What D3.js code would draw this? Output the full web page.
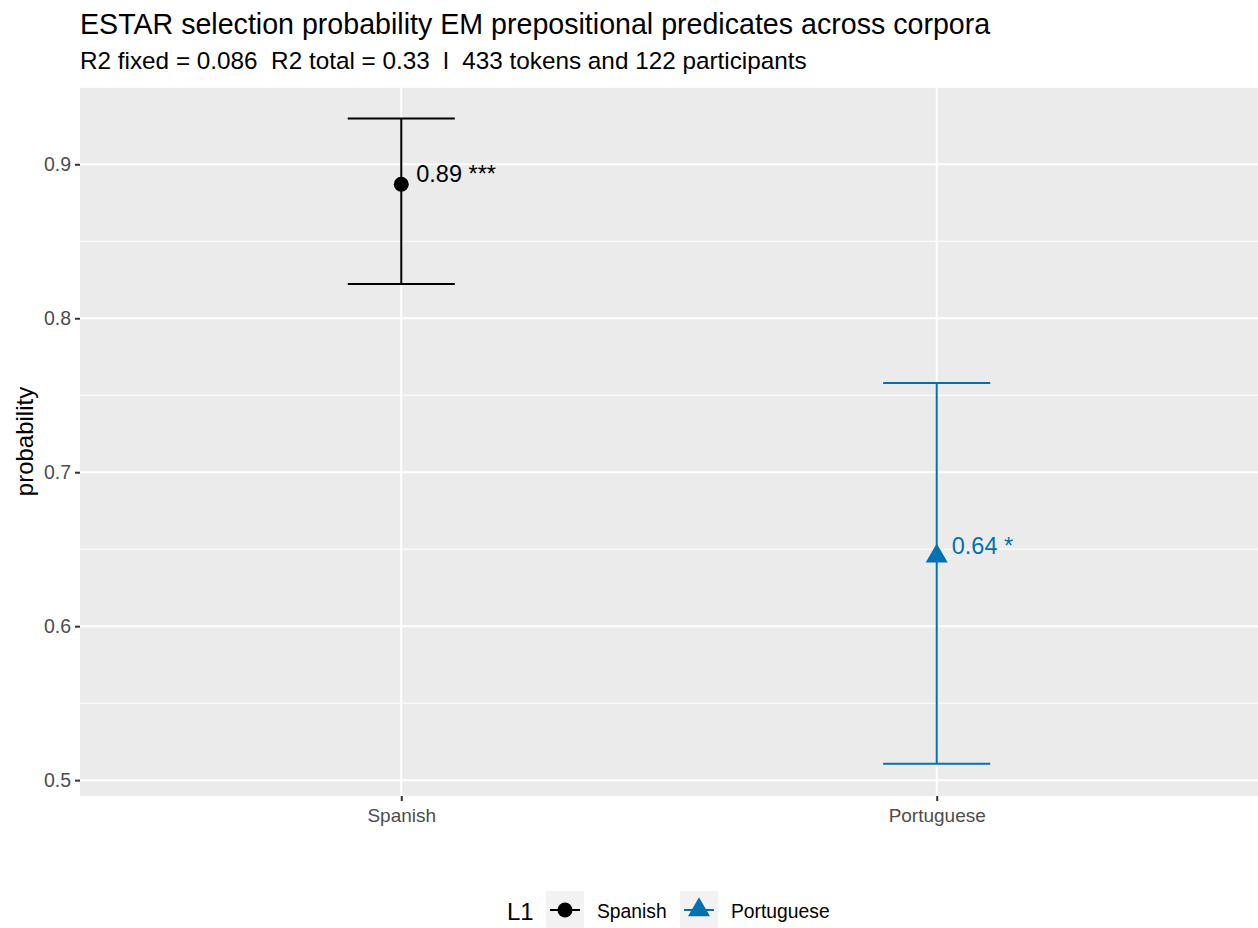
<!DOCTYPE html>
<html>
<head>
<meta charset="utf-8">
<script src="https://cdn.jsdelivr.net/npm/d3@7"></script>
<style>
  body { margin: 0; background: #fff; }
  svg { display: block; font-family: "Liberation Sans", Arial, Helvetica, sans-serif; }
  text { white-space: pre; }
</style>
</head>
<body>
<svg id="chart" width="1258" height="928"></svg>
<script>
// ---- data ----
const categories = ["Spanish", "Portuguese"];
const estimates = [0.887, 0.6455];
const lowerCI = [0.8223, 0.5106];
const upperCI = [0.9297, 0.758];
const labels = ["0.89 ***", "0.64 *"];
const colors = ["#000000", "#0072B2"];
const shapes = ["circle", "triangle"];
const yTicks = [0.5, 0.6, 0.7, 0.8, 0.9];
const yMinor = [0.55, 0.65, 0.75, 0.85, 0.95];
const titleText = "ESTAR selection probability EM prepositional predicates across corpora";
const subtitleText = "R2 fixed = 0.086  R2 total = 0.33  l  433 tokens and 122 participants";
const yLabel = "probability";
const legendTitle = "L1";

// ---- layout ----
const svg = d3.select("#chart");
const panel = { left: 80, right: 1258, top: 87, bottom: 796 };

const y = d3.scaleLinear().domain([0.4897, 0.9502]).range([panel.bottom, panel.top]);
// discrete x with ggplot-like expansion (0.6 units each side)
const xLin = d3.scaleLinear().domain([0.4, 2.6]).range([panel.left, panel.right]);
const x = d3.scalePoint().domain(categories).range([xLin(1), xLin(2)]);
const unit = xLin(1) - xLin(0);

// panel background
svg.append("rect").attr("x", panel.left).attr("y", panel.top)
  .attr("width", panel.right - panel.left).attr("height", panel.bottom - panel.top)
  .attr("fill", "#EBEBEB");

// minor grid
svg.append("g").selectAll("line").data(yMinor).join("line")
  .attr("x1", panel.left).attr("x2", panel.right)
  .attr("y1", d => y(d)).attr("y2", d => y(d))
  .attr("stroke", "#fff").attr("stroke-width", 1);
// major grid
svg.append("g").selectAll("line").data(yTicks).join("line")
  .attr("x1", panel.left).attr("x2", panel.right)
  .attr("y1", d => y(d)).attr("y2", d => y(d))
  .attr("stroke", "#fff").attr("stroke-width", 2);
svg.append("g").selectAll("line").data(categories).join("line")
  .attr("x1", d => x(d)).attr("x2", d => x(d))
  .attr("y1", panel.top).attr("y2", panel.bottom)
  .attr("stroke", "#fff").attr("stroke-width", 2);

// axes
const yAxis = d3.axisLeft(y).tickValues(yTicks).tickFormat(d3.format(".1f")).tickSize(5).tickPadding(4);
const gy = svg.append("g").attr("transform", `translate(${panel.left},0)`).call(yAxis);
gy.select(".domain").remove();
gy.selectAll(".tick line").attr("stroke", "#333").attr("stroke-width", 2);
gy.selectAll(".tick text").attr("fill", "#4D4D4D").style("font-size", "19.5px");

const xAxis = d3.axisBottom(x).tickSize(5).tickPadding(8);
const gx = svg.append("g").attr("transform", `translate(0,${panel.bottom})`).call(xAxis);
gx.select(".domain").remove();
gx.selectAll(".tick line").attr("stroke", "#333").attr("stroke-width", 2);
gx.selectAll(".tick text").attr("fill", "#4D4D4D").style("font-size", "19px");

// error bars
const capHalf = 0.1 * unit;
const data = categories.map((c, i) => ({ c, est: estimates[i], lo: lowerCI[i], hi: upperCI[i], lab: labels[i], col: colors[i], shape: shapes[i] }));
const eg = svg.append("g");
data.forEach(d => {
  const cx = x(d.c);
  eg.append("line").attr("x1", cx).attr("x2", cx).attr("y1", y(d.hi)).attr("y2", y(d.lo))
    .attr("stroke", d.col).attr("stroke-width", 2);
  eg.append("line").attr("x1", cx - capHalf).attr("x2", cx + capHalf).attr("y1", y(d.hi)).attr("y2", y(d.hi))
    .attr("stroke", d.col).attr("stroke-width", 2);
  eg.append("line").attr("x1", cx - capHalf).attr("x2", cx + capHalf).attr("y1", y(d.lo)).attr("y2", y(d.lo))
    .attr("stroke", d.col).attr("stroke-width", 2);
});

const symCircle = d3.symbol().type(d3.symbolCircle).size(Math.PI * 7.5 * 7.5);
const symTri = d3.symbol().type(d3.symbolTriangle).size(210);
function sym(shape) { return shape === "circle" ? symCircle() : symTri(); }

data.forEach(d => {
  eg.append("path").attr("d", sym(d.shape))
    .attr("transform", `translate(${x(d.c)},${y(d.est)})`)
    .attr("fill", d.col);
  eg.append("text").attr("x", x(d.c) + 15).attr("y", y(d.est) - 10.5)
    .attr("dominant-baseline", "central")
    .attr("fill", d.col).style("font-size", "23.5px").text(d.lab);
});

// titles
svg.append("text").attr("x", 80).attr("y", 34).style("font-size", "28.6px").attr("fill", "#000").text(titleText);
svg.append("text").attr("x", 80).attr("y", 69).style("font-size", "24.3px").attr("fill", "#000").text(subtitleText);
svg.append("text").attr("transform", `translate(33,${(panel.top + panel.bottom) / 2}) rotate(-90)`)
  .attr("text-anchor", "middle").style("font-size", "24px").attr("fill", "#000").text(yLabel);

// legend
const lg = svg.append("g");
lg.append("text").attr("x", 507).attr("y", 911).attr("dominant-baseline", "central")
  .style("font-size", "24px").text(legendTitle);
const keyX = [546, 680];
const textX = [597, 731];
data.forEach((d, i) => {
  lg.append("rect").attr("x", keyX[i]).attr("y", 891).attr("width", 38).attr("height", 38).attr("fill", "#F2F2F2");
  const cx = keyX[i] + 19, cy = 910;
  lg.append("line").attr("x1", keyX[i] + 4).attr("x2", keyX[i] + 34).attr("y1", cy).attr("y2", cy)
    .attr("stroke", d.col).attr("stroke-width", 2);
  lg.append("path").attr("d", sym(d.shape)).attr("transform", `translate(${cx},${cy})`).attr("fill", d.col);
  lg.append("text").attr("x", textX[i]).attr("y", 911).attr("dominant-baseline", "central")
    .style("font-size", "19.3px").text(d.c);
});
</script>
</body>
</html>
